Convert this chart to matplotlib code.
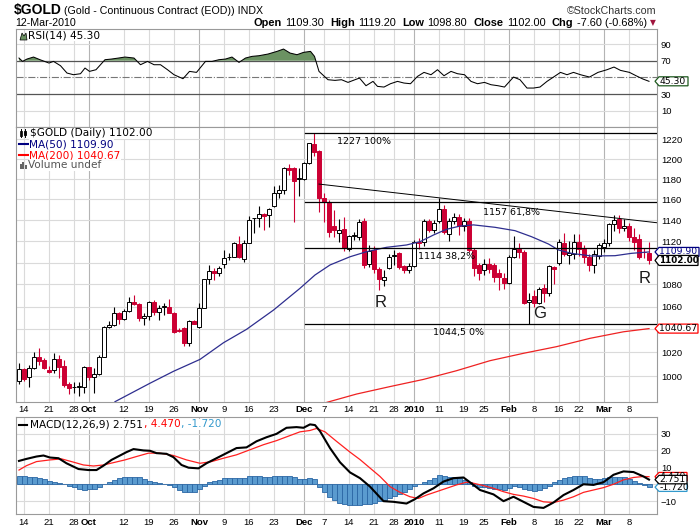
import matplotlib
matplotlib.use("Agg")
import matplotlib.pyplot as plt
from matplotlib.patches import Polygon, Rectangle
from matplotlib.lines import Line2D
from matplotlib.ticker import NullLocator
import numpy as np
import pandas as pd

plt.rcParams['font.family'] = ['Liberation Sans', 'DejaVu Sans']

W, H = 700, 530

# --- daten ---------------------------------------------------------------
holidays = ["2009-12-25", "2010-01-01", "2010-01-18", "2010-02-15"]
days = pd.bdate_range("2009-09-11", "2010-03-12")
days = days[~days.isin(pd.to_datetime(holidays))]

opens = [995.9, 1005.7, 999.6, 1006.5, 1016.5, 1013.6, 1004.9, 1004.9, 1014.2, 1008.5,
         993.2, 991.2, 991.0, 991.2, 1007.4, 999.0, 1001.8, 1016.5, 1041.9, 1043.4,
         1054.6, 1049.0, 1056.5, 1064.5, 1062.4, 1049.9, 1052.1, 1064.5, 1055.3, 1059.5,
         1059.5, 1054.7, 1039.3, 1041.1, 1028.0, 1047.4, 1041.9, 1059.2, 1084.6, 1092.5,
         1090.1, 1098.7, 1104.9, 1105.5, 1117.7, 1103.0, 1118.6, 1141.7, 1141.7, 1145.8,
         1145.0, 1153.6, 1165.9, 1169.2, 1191.3, 1191.3, 1180.5, 1180.0, 1196.3, 1215.2,
         1208.0, 1161.6, 1157.7, 1134.0, 1127.8, 1131.7, 1112.4, 1125.0, 1124.2, 1139.3,
         1098.5, 1112.0, 1094.0, 1084.0, 1095.0, 1106.0, 1108.5, 1097.0, 1093.0, 1097.0,
         1119.5, 1119.0, 1139.0, 1131.0, 1139.0, 1151.0, 1127.0, 1139.0, 1143.0, 1134.0,
         1139.0, 1112.0, 1098.0, 1093.0, 1099.0, 1098.0, 1090.0, 1086.0, 1081.0, 1105.0,
         1113.0, 1110.0, 1064.0, 1069.5, 1063.0, 1077.0, 1072.0, 1095.5, 1100.0, 1118.5,
         1107.0, 1108.0, 1119.0, 1113.0, 1105.0, 1098.0, 1106.5, 1114.5, 1118.0, 1136.0,
         1141.0, 1132.0, 1134.0, 1124.0, 1122.0, 1110.2, 1109.3]
highs = [1011.4, 1006.5, 1009.0, 1020.7, 1023.5, 1015.0, 1008.2, 1019.3, 1017.9, 1013.6,
         995.4, 995.4, 995.4, 1008.5, 1008.0, 1006.5, 1017.9, 1043.0, 1047.7, 1059.8,
         1055.6, 1057.6, 1069.0, 1070.5, 1063.6, 1054.0, 1065.1, 1066.0, 1061.9, 1063.3,
         1067.3, 1055.6, 1041.0, 1042.0, 1048.3, 1048.3, 1063.6, 1085.2, 1097.6, 1094.7,
         1096.8, 1111.6, 1109.2, 1119.0, 1124.8, 1121.1, 1144.2, 1142.3, 1153.6, 1146.4,
         1151.2, 1173.0, 1174.1, 1192.3, 1195.3, 1192.3, 1190.7, 1197.3, 1216.6, 1227.0,
         1209.0, 1166.0, 1159.0, 1149.7, 1140.9, 1143.0, 1125.5, 1129.0, 1141.0, 1142.0,
         1116.0, 1115.0, 1096.0, 1093.0, 1108.0, 1112.0, 1110.0, 1098.0, 1100.0, 1121.0,
         1123.0, 1141.0, 1141.0, 1140.0, 1161.0, 1155.0, 1142.0, 1147.0, 1146.0, 1142.0,
         1142.0, 1114.0, 1100.0, 1103.0, 1104.0, 1100.0, 1094.0, 1090.0, 1107.0, 1125.0,
         1118.0, 1112.0, 1072.0, 1075.0, 1078.0, 1080.0, 1098.0, 1097.0, 1122.0, 1128.0,
         1120.0, 1127.0, 1127.0, 1116.0, 1108.0, 1112.0, 1118.0, 1122.0, 1137.0, 1145.0,
         1145.0, 1141.0, 1137.0, 1132.0, 1127.0, 1114.0, 1119.2]
lows = [993.5, 996.0, 991.2, 1006.0, 1009.6, 1005.7, 1002.4, 1002.4, 998.2, 991.2,
        984.9, 985.7, 983.5, 986.2, 996.8, 986.2, 1001.0, 1016.0, 1041.0, 1042.6,
        1044.3, 1048.6, 1055.6, 1061.5, 1046.9, 1044.2, 1048.3, 1052.7, 1048.3, 1052.7,
        1054.2, 1036.6, 1038.0, 1026.0, 1026.0, 1044.5, 1041.0, 1058.6, 1080.4, 1084.3,
        1087.6, 1095.3, 1102.5, 1104.9, 1104.0, 1100.9, 1118.6, 1127.4, 1133.3, 1130.5,
        1133.6, 1152.3, 1161.0, 1165.0, 1184.3, 1138.5, 1163.0, 1179.0, 1195.3, 1202.6,
        1148.0, 1138.4, 1124.2, 1124.2, 1119.2, 1110.5, 1110.4, 1121.0, 1121.0, 1095.0,
        1096.0, 1090.0, 1075.0, 1079.0, 1094.0, 1098.0, 1094.0, 1090.0, 1090.0, 1096.0,
        1113.0, 1115.0, 1129.0, 1128.0, 1137.0, 1127.0, 1120.0, 1136.0, 1126.0, 1130.0,
        1110.0, 1088.0, 1084.0, 1089.0, 1090.0, 1082.0, 1075.0, 1076.0, 1080.0, 1104.0,
        1104.0, 1062.0, 1044.5, 1060.0, 1062.0, 1064.0, 1070.0, 1080.0, 1098.0, 1106.0,
        1099.0, 1103.0, 1106.0, 1100.0, 1092.0, 1090.0, 1103.0, 1110.0, 1115.0, 1130.0,
        1128.0, 1130.0, 1120.0, 1112.0, 1103.0, 1104.0, 1098.8]
closes = [1005.7, 997.3, 1006.5, 1016.5, 1013.1, 1006.5, 1003.5, 1014.2, 1007.4, 992.6,
          990.4, 991.2, 991.5, 1007.4, 999.0, 1001.8, 1016.5, 1041.9, 1043.4, 1054.6,
          1049.0, 1056.5, 1064.5, 1062.1, 1049.9, 1052.1, 1064.5, 1055.6, 1058.9, 1061.0,
          1054.7, 1038.1, 1039.0, 1028.0, 1047.4, 1044.8, 1059.2, 1084.6, 1092.5, 1090.1,
          1094.7, 1104.0, 1105.2, 1118.3, 1104.9, 1118.6, 1140.0, 1141.7, 1145.5, 1144.0,
          1150.3, 1165.9, 1169.2, 1191.3, 1189.0, 1177.6, 1180.9, 1196.3, 1215.9, 1207.4,
          1161.0, 1157.7, 1128.9, 1131.0, 1130.5, 1113.6, 1124.9, 1126.0, 1137.8, 1097.8,
          1111.0, 1094.0, 1085.0, 1087.0, 1105.0, 1107.0, 1096.0, 1093.0, 1097.0, 1119.5,
          1118.0, 1139.0, 1131.0, 1137.0, 1151.0, 1129.0, 1139.0, 1143.0, 1134.0, 1139.0,
          1112.0, 1095.0, 1090.0, 1099.0, 1094.0, 1087.0, 1087.0, 1081.0, 1105.5, 1113.0,
          1110.0, 1063.0, 1066.0, 1063.0, 1076.0, 1072.0, 1096.5, 1094.0, 1119.5, 1108.0,
          1109.0, 1119.0, 1113.0, 1105.0, 1098.0, 1108.0, 1116.0, 1118.0, 1136.0, 1140.0,
          1132.0, 1134.5, 1124.0, 1119.5, 1105.0, 1109.6, 1102.0]

# gleitende durchschnitte (tag-index / wert)
ma50_day = [19.2, 26.2, 30.9, 36.2, 40.9, 45.5, 50.9, 56.2, 59.2, 62.2, 66.2, 69.5, 73.5,
            77.5, 80.2, 82.9, 85.5, 88.2, 90.9, 95.2, 99.2, 102.5, 105.9, 107.9, 110.5,
            114.5, 119.2, 122.5, 126]
ma50_val = [978.7, 994.0, 1004.0, 1014.1, 1028.4, 1040.0, 1057.0, 1076.5, 1088.6, 1097.8,
            1105.4, 1110.1, 1114.2, 1116.4, 1119.5, 1125.8, 1131.2, 1134.3, 1135.4, 1133.1,
            1129.9, 1124.2, 1117.3, 1111.7, 1108.6, 1106.1, 1106.4, 1108.6, 1109.90]
ma200_day = [61.0, 67.5, 74.2, 80.9, 87.5, 94.2, 100.9, 107.5, 114.2, 120.9, 126]
ma200_val = [977.5, 985.0, 991.2, 997.2, 1004.5, 1013.0, 1019.3, 1025.0, 1032.2, 1037.9, 1040.67]

# fibonacci-niveaus und trendlinie
fib_levels = [1227, 1157, 1114, 1044.5]
fib_labels = ["1227 100%", "1157 61,8%", "1114 38,2%", "1044,5 0%"]
fib_start = 57.2
trend_day = [60, 127.5]
trend_val = [1175, 1137.5]

# RSI(14)
rsi_day = [0, 0.7, 1.6, 2.9, 4.2, 5.1, 6.0, 6.9, 8.3, 9.6, 10.9, 12.3, 13.2, 14.1, 15.4,
           17.2, 18.5, 19.9, 21.2, 23.0, 24.3, 25.7, 27.0, 28.3, 29.7, 31.0, 32.8, 34.1,
           35.5, 37.3, 38.6, 40.0, 41.3, 42.6, 44.0, 45.3, 46.6, 48.0, 49.8, 51.6, 52.9,
           54.2, 55.6, 56.9, 58.3, 59.1, 60.0, 61.8, 63.2, 64.5, 65.8, 67.2, 68.1, 69.4,
           70.8, 71.7, 73.0, 74.3, 75.7, 77.0, 78.3, 79.7, 81.0, 82.4, 83.7, 85.0, 86.4,
           87.7, 89.1, 90.4, 91.7, 93.1, 94.4, 95.8, 97.1, 98.9, 100.2, 101.6, 102.9,
           104.2, 105.6, 106.9, 108.3, 109.6, 110.9, 112.3, 114.1, 115.8, 117.6, 119.0,
           120.3, 122.1, 123.4, 124.8, 126]
rsi_val = [73.2, 69.2, 72.0, 74.4, 71.2, 69.2, 67.2, 69.2, 64.0, 55.2, 53.2, 54.4, 61.2,
           57.2, 59.2, 71.2, 72.0, 73.2, 74.4, 73.2, 65.2, 69.2, 65.2, 65.2, 59.2, 53.2,
           48.4, 57.2, 56.0, 69.2, 69.2, 71.2, 72.0, 74.4, 68.0, 73.2, 75.2, 76.0, 78.0,
           81.2, 84.0, 79.2, 77.2, 80.0, 81.2, 75.2, 57.2, 47.2, 46.4, 47.2, 44.0, 47.2,
           49.2, 40.0, 45.2, 39.2, 38.4, 42.4, 45.2, 43.2, 42.4, 51.2, 56.0, 53.2, 59.2,
           52.0, 57.2, 54.4, 53.2, 45.2, 42.4, 44.0, 41.2, 40.0, 38.4, 50.4, 47.2, 37.2,
           37.2, 38.4, 45.2, 50.4, 56.0, 53.2, 56.0, 53.2, 50.4, 56.0, 59.2, 62.4, 58.4,
           56.0, 52.0, 48.0, 45.30]

# MACD(12,26,9)
macd_day = [0, 1.5, 3.5, 4.9, 6.2, 7.9, 9.5, 11.9, 13.9, 15.5, 16.9, 18.5, 20.2, 21.5,
            22.9, 24.9, 26.2, 27.5, 29.5, 30.9, 32.5, 33.9, 35.9, 37.5, 39.5, 41.5, 43.5,
            45.5, 47.5, 49.5, 51.5, 53.5, 55.5, 56.9, 58.2, 59.2, 60.2, 62.2, 64.2, 66.2,
            68.2, 70.2, 72.9, 74.9, 77.5, 79.2, 80.9, 82.9, 84.9, 86.9, 88.9, 90.9, 92.2,
            94.9, 96.9, 98.9, 100.9, 102.9, 104.9, 106.9, 108.9, 110.9, 112.9, 114.9,
            116.9, 118.9, 120.9, 122.9, 124.9, 126]
macd_val = [13.8, 15.0, 16.4, 17.0, 15.8, 15.4, 12.4, 9.0, 8.4, 8.4, 11.0, 14.4, 17.0, 19.0,
            20.8, 20.0, 19.8, 18.4, 18.0, 16.0, 11.4, 9.8, 9.4, 12.4, 15.4, 18.4, 21.4,
            21.8, 25.4, 27.8, 29.8, 33.4, 33.8, 33.4, 35.4, 35.0, 31.4, 21.4, 13.0, 7.0,
            3.6, -1.4, -10.0, -10.4, -11.4, -8.8, -5.4, -2.4, 1.6, 3.6, 4.0, -0.4, -3.4,
            -6.0, -10.0, -7.4, -10.4, -13.4, -14.0, -10.8, -6.4, -3.4, 0.0, -0.4, 1.2,
            5.6, 7.6, 7.2, 4.6, 2.751]
signal_day = [0, 1.5, 3.5, 6.2, 8.5, 10.5, 12.9, 14.9, 16.9, 19.2, 21.2, 23.5, 25.9, 28.2,
              30.9, 33.5, 36.2, 38.5, 40.9, 43.5, 46.2, 48.9, 51.5, 54.2, 56.2, 58.2, 59.5,
              61.2, 63.5, 66.2, 68.2, 70.2, 72.2, 74.2, 76.2, 78.2, 79.9, 81.5, 83.5, 85.5,
              87.5, 89.5, 90.9, 92.9, 94.9, 96.9, 98.9, 100.9, 102.9, 104.9, 106.9, 108.9,
              110.9, 112.9, 114.9, 116.9, 118.9, 120.9, 122.9, 124.9, 126]
signal_val = [8.4, 11.0, 13.4, 14.4, 15.0, 13.4, 11.4, 10.8, 11.4, 13.0, 14.4, 16.4, 18.4,
              18.4, 17.0, 14.4, 12.4, 13.4, 15.4, 17.4, 20.4, 23.4, 25.8, 28.8, 31.0, 31.8,
              33.0, 31.0, 25.4, 19.0, 14.6, 9.6, 4.6, -1.4, -4.8, -7.4, -8.4, -6.4, -4.4,
              -2.4, -0.4, 1.2, 0.6, -0.8, -2.4, -4.4, -6.0, -7.0, -8.4, -10.4, -10.8, -9.4,
              -7.4, -4.8, -3.4, -2.0, 0.0, 2.6, 4.0, 4.6, 4.47]
hist_val = [5.0, 4.6, 4.4, 4.2, 3.8, 3.2, 2.2, 1.6, 1.0, 0.4,
            -0.8, -1.6, -2.6, -3.2, -3.0, -2.6, -1.4, 0.4, 1.6, 2.8,
            3.6, 4.2, 4.4, 4.4, 4.0, 3.0, 2.0, 1.4, 1.0, 0.4,
            -0.4, -1.4, -3.2, -4.4, -4.8, -4.6, -3.0, -1.0, 1.2, 2.0,
            2.6, 3.4, 3.8, 3.8, 3.6, 3.8, 4.6, 4.8, 4.8, 4.4,
            4.4, 4.6, 4.8, 5.0, 5.0, 4.4, 3.0, 3.0, 3.4, 3.0,
            -1.4, -4.6, -7.4, -9.6, -10.8, -11.6, -12.0, -12.2, -12.2, -11.8,
            -11.4, -11.0, -10.2, -9.4, -8.2, -7.0, -5.6, -4.4, -2.8, -1.2,
            0.4, 1.6, 2.6, 3.8, 5.4, 4.6, 4.2, 4.0, 3.6, 2.8,
            1.4, -0.8, -1.6, -1.8, -2.2, -2.6, -3.0, -3.2, -2.4, -1.2,
            -1.6, -2.8, -3.6, -4.0, -3.6, -2.4, -1.0, 1.2, 2.4, 3.4,
            4.0, 4.8, 5.0, 4.6, 3.6, 3.0, 3.0, 3.4, 4.0, 4.4,
            4.4, 4.0, 3.0, 2.0, 0.8, -0.6, -1.72]

tick_dates = ["2009-09-14", "2009-09-21", "2009-09-28", "2009-10-01", "2009-10-12",
              "2009-10-19", "2009-10-26", "2009-11-02", "2009-11-09", "2009-11-16",
              "2009-11-23", "2009-12-01", "2009-12-07", "2009-12-14", "2009-12-21",
              "2009-12-28", "2010-01-04", "2010-01-11", "2010-01-19", "2010-01-25",
              "2010-02-01", "2010-02-08", "2010-02-16", "2010-02-22", "2010-03-01",
              "2010-03-08"]

price_ticks = [1000, 1020, 1060, 1080, 1120, 1140, 1160, 1180, 1200, 1220]
price_grid = list(range(1000, 1240, 20))

# --- farben ---------------------------------------------------------------
RED = '#cc0033'
GRID = '#dadada'
GRID_M = '#b4b4b4'
FRAME = '#9a9a9a'
NAVY = '#2e2e8f'
BLUE = '#3399cc'

box_z = [10]


def fx(px):
    return px / W


def fy(py):
    return 1 - py / H


def px_axes(fig, left, top, right, bottom):
    return fig.add_axes([fx(left), fy(bottom), (right - left) / W, (bottom - top) / H])


def style_axes(ax):
    for s in ax.spines.values():
        s.set_color(FRAME)
        s.set_linewidth(0.8)
    ax.tick_params(axis='y', length=0, labelleft=False, labelright=True, pad=3,
                   labelsize=6.8)
    ax.tick_params(axis='x', length=0, labelsize=6.8)
    ax.yaxis.set_minor_locator(NullLocator())
    ax.set_xlim(-0.6, 127.54)


def value_box(fig, ax, val, label, edge, color='black', bold=False, x1=688, h=9, size=6.7):
    # kasten mit spitze links, jeder neue kasten liegt ueber dem vorigen
    yd = ax.transData.transform((0, val))[1]
    yc = H - yd
    x0 = 655
    z = box_z[0]
    box_z[0] += 2
    pts = [(x0, yc), (x0 + 4, yc - h / 2), (x1, yc - h / 2), (x1, yc + h / 2), (x0 + 4, yc + h / 2)]
    poly = Polygon([(fx(a), fy(b)) for a, b in pts], closed=True, transform=fig.transFigure,
                   facecolor='white', edgecolor=edge, lw=0.9, zorder=z)
    fig.add_artist(poly)
    fig.text(fx(x0 + 4.5), fy(yc), label, va='center', ha='left', fontsize=size,
             family='DejaVu Sans', color=color, weight='bold' if bold else 'normal', zorder=z + 1)


def legend_text(fig, x, y, s, color='black'):
    return fig.text(fx(x), fy(y), s, va='center', ha='left', fontsize=7.6,
                    family='DejaVu Sans', color=color,
                    bbox=dict(facecolor='white', edgecolor='none', pad=0.3))


fig = plt.figure(figsize=(W / 100, H / 100), dpi=100)
fig.patch.set_facecolor('white')

x = np.arange(len(closes))
tick_pos = [days.get_loc(pd.Timestamp(d)) for d in tick_dates]
tick_lab = []
tick_month = []
for d in tick_dates:
    t = pd.Timestamp(d)
    first = days[(days.year == t.year) & (days.month == t.month)][0] == t
    tick_month.append(first)
    if first:
        tick_lab.append(str(t.year) if t.month == 1 else t.strftime('%b'))
    else:
        tick_lab.append(str(t.day))

ax_rsi = px_axes(fig, 16, 29.3, 656.7, 127.3)
ax = px_axes(fig, 16, 127.3, 656.7, 402.3)
ax_macd = px_axes(fig, 16, 417.3, 656.7, 514)

for a in (ax_rsi, ax, ax_macd):
    style_axes(a)
    for p, m in zip(tick_pos, tick_month):
        a.axvline(p, color=GRID_M if m else GRID, lw=0.8, zorder=0)

# --- RSI --------------------------------------------------------------------
ax_rsi.set_ylim(-9.9, 107.7)
for v in (10, 90):
    ax_rsi.axhline(v, color=GRID, lw=0.8, zorder=0)
ax_rsi.axhline(70, color='#555555', lw=0.9, zorder=1)
ax_rsi.axhline(30, color='#555555', lw=0.9, zorder=1)
ax_rsi.axhline(50, color='#777777', lw=0.8, ls='-.', zorder=1)
rd = np.array(rsi_day)
rv = np.array(rsi_val)
ax_rsi.fill_between(rd, rv, 70, where=rv > 70, interpolate=True, color='#6b9262', lw=0, zorder=2)
ax_rsi.plot(rd, rv, color='black', lw=0.75, zorder=3)
ax_rsi.set_yticks([10, 30, 70, 90])
ax_rsi.set_xticks(tick_pos)
ax_rsi.tick_params(axis='x', labelbottom=False)

# --- kurs -------------------------------------------------------------------
ax.set_yscale('log')
ax.set_ylim(978.2, 1232.4)
for v in price_grid:
    ax.axhline(v, color=GRID, lw=0.8, zorder=0)
ax.set_yticks(price_ticks, [str(v) for v in price_ticks])
ax.yaxis.set_minor_locator(NullLocator())

o = np.array(opens)
c = np.array(closes)
hi = np.array(highs)
lo = np.array(lows)
up = c >= o
blo = np.minimum(o, c)
bhi = np.maximum(o, c)
ax.vlines(x[up], lo[up], hi[up], color='black', lw=0.8, zorder=3)
ax.vlines(x[~up], lo[~up], hi[~up], color=RED, lw=0.8, zorder=3)
ax.bar(x[up], (bhi - blo)[up], bottom=blo[up], width=0.68, facecolor='white',
       edgecolor='black', lw=0.7, zorder=4)
ax.bar(x[~up], (bhi - blo)[~up], bottom=blo[~up], width=0.68, facecolor=RED,
       edgecolor=RED, lw=0.7, zorder=4)

ax.plot(ma50_day, ma50_val, color=NAVY, lw=0.9, zorder=5)
ax.plot(ma200_day, ma200_val, color='#ee2222', lw=0.9, zorder=5)

for v in fib_levels:
    ax.plot([fib_start, 127.54], [v, v], color='black', lw=0.9, zorder=6)
ax.plot(trend_day, trend_val, color='black', lw=0.7, zorder=6)
ax.set_xticks(tick_pos, tick_lab)
ax.tick_params(axis='x', pad=2)

# --- MACD -------------------------------------------------------------------
ax_macd.set_ylim(-17.6, 39.6)
for v in (-10, 0, 10, 20, 30):
    ax_macd.axhline(v, color=GRID, lw=0.8, zorder=0)
ax_macd.bar(x, hist_val, width=1.0, facecolor='#5a9bcf', edgecolor='#2a66a4', lw=0.6, zorder=2)
ax_macd.plot(signal_day, signal_val, color='#ff2020', lw=0.9, zorder=3)
ax_macd.plot(macd_day, macd_val, color='black', lw=1.5, zorder=4)
ax_macd.set_yticks([-10, 10, 20, 30])
ax_macd.set_xticks(tick_pos, tick_lab)
ax_macd.tick_params(axis='x', pad=3)

for a in (ax, ax_macd):
    for lab, m in zip(a.get_xticklabels(), tick_month):
        if m:
            lab.set_fontweight('bold')

# --- kopfzeile --------------------------------------------------------------
fig.text(fx(14), fy(10), "$GOLD", fontsize=10, weight='bold', va='center')
fig.text(fx(64), fy(10.5), "(Gold - Continuous Contract (EOD)) INDX", fontsize=7.7, va='center')
fig.text(fx(656), fy(10.5), "\u00a9StockCharts.com", fontsize=7.7, va='center', ha='right',
         color='#333333')
fig.text(fx(15), fy(23), days[-1].strftime('%d-%b-%Y'), fontsize=7.7, va='center')

chg = closes[-1] - closes[-2]
pct = chg / closes[-2] * 100
parts = [("Open", True), (f"{opens[-1]:.2f}", False), ("High", True), (f"{highs[-1]:.2f}", False),
         ("Low", True), (f"{lows[-1]:.2f}", False), ("Close", True), (f"{closes[-1]:.2f}", False),
         ("Chg", True), (f"{chg:.2f} ({pct:.2f}%)", False)]
renderer = fig.canvas.get_renderer()
xp = 253.5
for s, b in parts:
    t = fig.text(fx(xp), fy(23), s, fontsize=7.9, va='center', weight='bold' if b else 'normal')
    bb = t.get_window_extent(renderer)
    xp += bb.width + (3.5 if b else 6)
fig.text(fx(xp - 3), fy(22.5), "\u25bc", fontsize=5.5, va='center', family='DejaVu Sans',
         color='#a0153e')

# --- legenden ---------------------------------------------------------------
fig.add_artist(Polygon([(fx(20), fy(40)), (fx(22), fy(33)), (fx(24), fy(36)), (fx(26), fy(33)),
                        (fx(27), fy(40))], closed=True, transform=fig.transFigure,
                       facecolor='#6b9262', edgecolor='black', lw=0.5))
legend_text(fig, 28, 36, f"RSI(14) {rsi_val[-1]:.2f}")

# kerzen-symbol
fig.add_artist(Line2D([fx(21), fx(21)], [fy(129), fy(137)], color='black', lw=0.7))
fig.add_artist(Rectangle((fx(20), fy(136)), 2 / W, 5 / H, transform=fig.transFigure,
                         facecolor='white', edgecolor='black', lw=0.6))
fig.add_artist(Line2D([fx(25), fx(25)], [fy(129), fy(137)], color='black', lw=0.7))
fig.add_artist(Rectangle((fx(24), fy(135)), 2 / W, 4 / H, transform=fig.transFigure,
                         facecolor='black', edgecolor='black', lw=0.6))
legend_text(fig, 30, 133.3, f"$GOLD (Daily) {closes[-1]:.2f}")
fig.add_artist(Line2D([fx(19), fx(28)], [fy(144.3), fy(144.3)], color='#000080', lw=1.5))
legend_text(fig, 29, 144.3, f"MA(50) {ma50_val[-1]:.2f}", color='#000080')
fig.add_artist(Line2D([fx(19), fx(28)], [fy(155), fy(155)], color='#ff0000', lw=1.5))
legend_text(fig, 29, 155, f"MA(200) {ma200_val[-1]:.2f}", color='#ff0000')
for k, hgt in enumerate([5, 7, 4]):
    fig.add_artist(Rectangle((fx(19.5 + 2.6 * k), fy(169)), 2 / W, hgt / H,
                             transform=fig.transFigure, facecolor='#666666', lw=0))
legend_text(fig, 28, 165.3, "Volume undef", color='#555555')

fig.add_artist(Line2D([fx(19), fx(27)], [fy(424.5), fy(424.5)], color='black', lw=1.5))
xp = 30.5
for s, col in [(f"MACD(12,26,9) {macd_val[-1]:.3f}", 'black'), (f", {signal_val[-1]:.3f}", '#ff0000'),
               (f", {hist_val[-1]:.3f}", BLUE)]:
    t = legend_text(fig, xp, 424.5, s, color=col)
    xp += t.get_window_extent(renderer).width + 0.5

# --- beschriftungen im chart ------------------------------------------------
fib_text_pos = [(336.7, 141.3), (483.3, 212.3), (418.3, 256.3), (432.7, 332.3)]
for (px, py), s in zip(fib_text_pos, fib_labels):
    fig.text(fx(px), fy(py), s, fontsize=6.8, family='DejaVu Sans', va='center', zorder=7)
for s, px, py in [("R", 380.7, 302.7), ("G", 539.3, 313.3), ("R", 645, 278.3)]:
    fig.text(fx(px), fy(py), s, fontsize=12, va='center', ha='center', color='#1a1a1a')

# --- wertkaesten rechts -----------------------------------------------------
value_box(fig, ax_rsi, rsi_val[-1], f"{rsi_val[-1]:.2f}", '#1f5a1f', x1=688, h=9)
value_box(fig, ax, ma50_val[-1], f"{ma50_val[-1]:.2f}", '#000080', color='#000080', x1=699, h=9)
value_box(fig, ax, closes[-1], f"{closes[-1]:.2f}", 'black', bold=True, x1=698, h=10, size=6.3)
value_box(fig, ax, ma200_val[-1], f"{ma200_val[-1]:.2f}", '#ff0000', x1=698, h=9)
value_box(fig, ax_macd, signal_val[-1], f"{signal_val[-1]:.3f}", '#ff0000', x1=687, h=8.5)
value_box(fig, ax_macd, hist_val[-1], f"{hist_val[-1]:.3f}", BLUE, x1=687, h=8.5)
value_box(fig, ax_macd, macd_val[-1], f"{macd_val[-1]:.3f}", 'black', x1=687, h=8.5)

fig.savefig("out.png", dpi=100)
